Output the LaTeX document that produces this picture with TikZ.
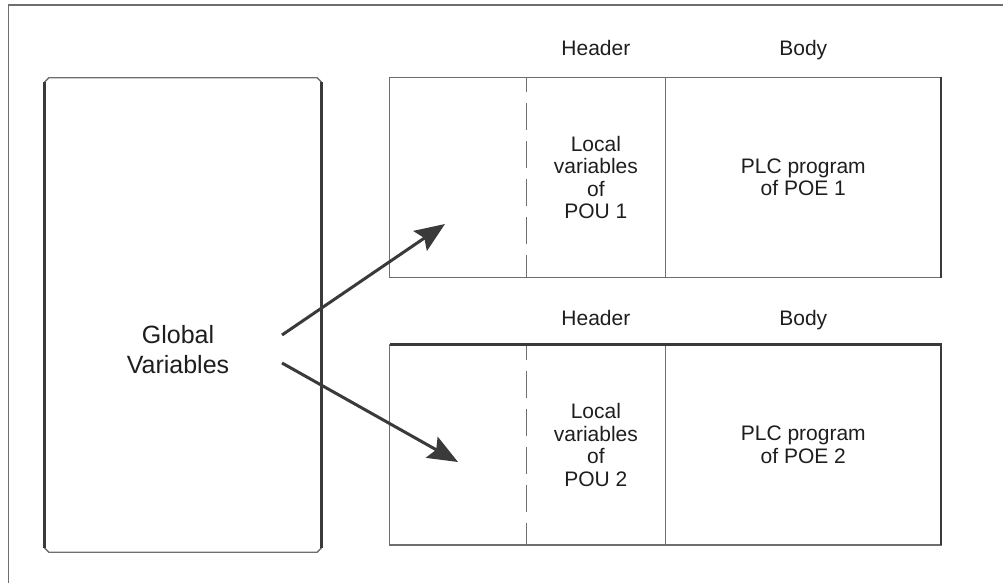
\documentclass[tikz,border=0pt]{standalone}
\usepackage{fontspec}
\setmainfont{Liberation Sans}
\usetikzlibrary{positioning, arrows.meta}
\definecolor{rule}{HTML}{6E6E6E}
\definecolor{heavy}{HTML}{3A3A3A}
\definecolor{ink}{HTML}{1E1E1E}

\begin{document}
\begin{tikzpicture}[
  x=1pt, y=-1pt,
  every node/.style={font=\fontsize{21}{22.5}\selectfont, text=ink},
  cell/.style={minimum height=200pt, inner sep=0pt, align=center},
  lbl/.style={inner sep=0pt, text depth=0pt},
  thin/.style={draw=rule, line width=1.3pt},
  thick/.style={draw=heavy, line width=2.7pt},
  arrow/.style={-{Stealth[length=30pt, width=24pt, inset=5pt]}, heavy, line width=3pt}
]
  \useasboundingbox (0,0) rectangle (1003,583);

  % outer frame (open at right and bottom)
  \draw[thin] (1003,5) -- (8.5,5) -- (8.5,583);

  % global variables
  \node[minimum width=276pt, minimum height=474pt, inner sep=0pt] (glob) at (183,315) {};
  \node[font=\fontsize{25}{30}\selectfont, align=center] (gtxt) at (178,350) {Global\\Variables};
  \draw[thin] ([xshift=4pt]glob.north west) -- ([xshift=-4pt]glob.north east)
    -- ([yshift=-4pt]glob.north east) -- ([yshift=4pt]glob.south east)
    -- ([xshift=-4pt]glob.south east) -- ([xshift=4pt]glob.south west)
    -- ([yshift=4pt]glob.south west) -- ([yshift=-4pt]glob.north west) -- cycle;
  \draw[thick] ([yshift=-4pt]glob.north west) -- ([yshift=4pt]glob.south west);
  \draw[thick] ([yshift=-4pt]glob.north east) -- ([yshift=4pt]glob.south east);

  % POU 1
  \node[cell, minimum width=136pt] (lead1) at (458,177.5) {};
  \node[cell, minimum width=139pt, right=0pt of lead1] (loc1) {Local\\variables\\of\\POU 1};
  \node[cell, minimum width=275pt, right=0pt of loc1] (prg1) {PLC program\\of POE 1};
  \node[lbl, above=22pt of loc1] (hd1) {Header};
  \node[lbl, above=22pt of prg1] (bd1) {Body};
  \draw[thin] (lead1.north west) rectangle (prg1.south east);
  \draw[thin, dash pattern=on 27pt off 11pt, dash phase=12pt] (lead1.north east) -- (lead1.south east);
  \draw[thin] (loc1.north east) -- (loc1.south east);
  \draw[thick] (prg1.north east) -- (prg1.south east);

  % POU 2
  \node[cell, minimum width=136pt, below=67pt of lead1] (lead2) {};
  \node[cell, minimum width=139pt, right=0pt of lead2] (loc2) {Local\\variables\\of\\POU 2};
  \node[cell, minimum width=275pt, right=0pt of loc2] (prg2) {PLC program\\of POE 2};
  \node[lbl, above=19pt of loc2] (hd2) {Header};
  \node[lbl, above=19pt of prg2] (bd2) {Body};
  \draw[thin] (lead2.north west) rectangle (prg2.south east);
  \draw[thin, dash pattern=on 27pt off 11pt, dash phase=12pt] (lead2.north east) -- (lead2.south east);
  \draw[thin] (loc2.north east) -- (loc2.south east);
  \draw[thick] (lead2.north west) -- (prg2.north east) -- (prg2.south east);

  % arrows
  \coordinate (s1) at (282,335);
  \coordinate (t1) at (445,224);
  \coordinate (s2) at (282,363);
  \coordinate (t2) at (458,462);
  \draw[arrow] (s1) -- (t1);
  \draw[arrow] (s2) -- (t2);
\end{tikzpicture}
\end{document}
